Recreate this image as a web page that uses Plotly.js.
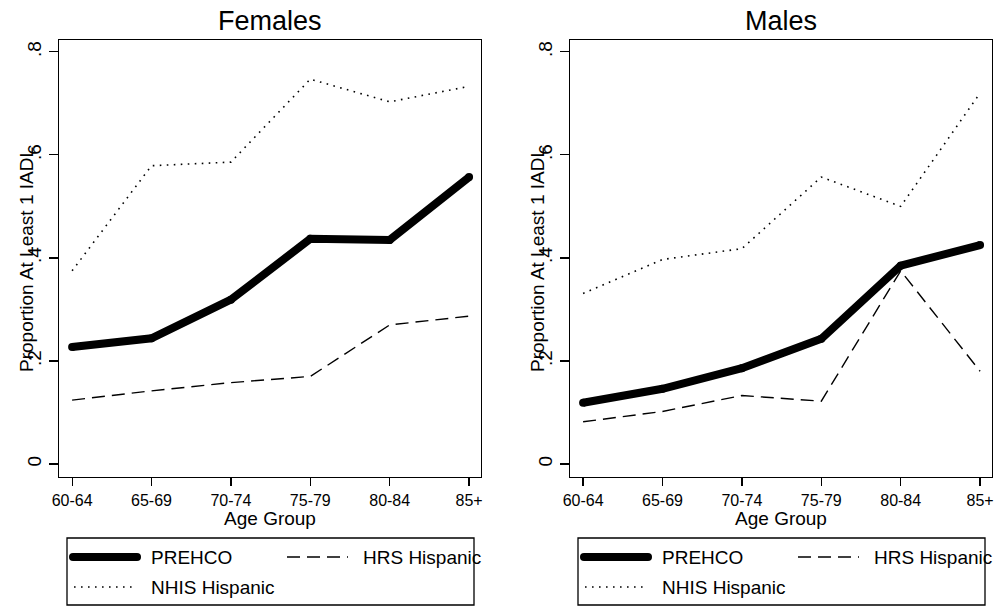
<!DOCTYPE html>
<html>
<head>
<meta charset="utf-8">
<script src="https://cdn.plot.ly/plotly-3.0.1.min.js"></script>
<style>
  html, body { margin: 0; padding: 0; background: #fff; }
  #chart { width: 998px; height: 606px; }
</style>
</head>
<body>
<div id="chart"></div>
<script>
// Age groups on the x axis
const ageGroups = ['60-64', '65-69', '70-74', '75-79', '80-84', '85+'];

// Proportion with at least one IADL limitation, females
const femalesPrehco = [0.227, 0.244, 0.319, 0.437, 0.435, 0.557];
const femalesHrs    = [0.124, 0.142, 0.158, 0.170, 0.270, 0.287];
const femalesNhis   = [0.375, 0.579, 0.586, 0.747, 0.703, 0.733];

// Proportion with at least one IADL limitation, males
const malesPrehco = [0.119, 0.146, 0.186, 0.243, 0.385, 0.425];
const malesHrs    = [0.082, 0.102, 0.133, 0.122, 0.375, 0.180];
const malesNhis   = [0.331, 0.397, 0.418, 0.557, 0.500, 0.720];

// Y tick values and labels
const yTickVals = [0, 0.2, 0.4, 0.6, 0.8];
const yTickText = ['0', '.2', '.4', '.6', '.8'];

const seriesNames = ['PREHCO', 'HRS Hispanic', 'NHIS Hispanic'];

const W = 998, H = 606;
const FONT = 'Liberation Sans, Arial, Helvetica, sans-serif';
const px = v => v / W;          // pixel x -> paper x
const py = v => 1 - v / H;      // pixel y -> paper y

const styles = {
  'PREHCO':        { line: { color: '#000', width: 8 }, mode: 'lines+markers', marker: { size: 8, color: '#000' } },
  'HRS Hispanic':  { line: { color: '#000', width: 1.4, dash: '13px,7px' }, mode: 'lines' },
  'NHIS Hispanic': { line: { color: '#000', width: 1.6, dash: '1.6px,5.4px' }, mode: 'lines' }
};

function trace(name, y, xa, ya) {
  return Object.assign({
    type: 'scatter', x: ageGroups, y: y, name: name,
    xaxis: xa, yaxis: ya, showlegend: false, hoverinfo: 'skip'
  }, styles[name]);
}

const data = [
  trace('NHIS Hispanic', femalesNhis, 'x', 'y'),
  trace('HRS Hispanic', femalesHrs, 'x', 'y'),
  trace('PREHCO', femalesPrehco, 'x', 'y'),
  trace('NHIS Hispanic', malesNhis, 'x2', 'y2'),
  trace('HRS Hispanic', malesHrs, 'x2', 'y2'),
  trace('PREHCO', malesPrehco, 'x2', 'y2')
];

const yDomain = [1 - 477 / H, 1 - 40 / H];

function xAxis(domain, anchor) {
  return {
    domain: domain, anchor: anchor,
    type: 'category', categoryarray: ageGroups,
    range: [-0.165, 5.15],
    showgrid: false, zeroline: false,
    showline: true, mirror: true, linecolor: '#000', linewidth: 1.3,
    ticks: 'outside', ticklen: 8, tickwidth: 1.2, tickcolor: '#000',
    tickfont: { family: FONT, size: 16, color: '#000' },
    title: { text: 'Age Group', font: { family: FONT, size: 19, color: '#000' }, standoff: 1 }
  };
}

function yAxis(anchor) {
  return {
    domain: yDomain, anchor: anchor,
    range: [-0.0252, 0.823],
    tickvals: yTickVals, ticktext: yTickText, tickangle: -90,
    showgrid: false, zeroline: false,
    showline: true, mirror: true, linecolor: '#000', linewidth: 1.3,
    ticks: 'outside', ticklen: 9, tickwidth: 1.2, tickcolor: '#000',
    tickfont: { family: FONT, size: 19, color: '#000' }
  };
}

// Legend boxes drawn below each panel
const shapes = [];
const annotations = [];

function legendBlock(dx) {
  const box = { x0: 67 + dx, x1: 474 + dx, y0: 538, y1: 605 };
  shapes.push({
    type: 'rect', xref: 'paper', yref: 'paper',
    x0: px(box.x0), x1: px(box.x1), y0: py(box.y1), y1: py(box.y0),
    line: { color: '#000', width: 1.3 }, fillcolor: 'rgba(0,0,0,0)'
  });
  const entries = [
    { name: 'PREHCO',        x0: 73 + dx,  x1: 137 + dx, tx: 149 + dx, y: 557 },
    { name: 'HRS Hispanic',  x0: 287 + dx, x1: 348 + dx, tx: 361 + dx, y: 557 },
    { name: 'NHIS Hispanic', x0: 74 + dx,  x1: 132 + dx, tx: 149 + dx, y: 587 }
  ];
  entries.forEach(e => {
    const st = styles[e.name].line;
    shapes.push({
      type: 'line', xref: 'paper', yref: 'paper',
      x0: px(e.x0), x1: px(e.x1), y0: py(e.y), y1: py(e.y),
      line: { color: '#000', width: st.width, dash: st.dash || 'solid' }
    });
    if (e.name === 'PREHCO') {
      [e.x0, e.x1].forEach(cx => shapes.push({
        type: 'circle', xref: 'paper', yref: 'paper',
        x0: px(cx - 4), x1: px(cx + 4), y0: py(e.y + 4), y1: py(e.y - 4),
        fillcolor: '#000', line: { width: 0 }
      }));
    }
    annotations.push({
      xref: 'paper', yref: 'paper', x: px(e.tx), y: py(e.y),
      xanchor: 'left', yanchor: 'middle', showarrow: false,
      text: e.name, font: { family: FONT, size: 19, color: '#000' }
    });
  });
}
legendBlock(0);
legendBlock(511);

// Panel titles
[['Females', 270], ['Males', 781]].forEach(([t, cx]) => {
  annotations.push({
    xref: 'paper', yref: 'paper', x: px(cx), y: py(21),
    xanchor: 'center', yanchor: 'middle', showarrow: false,
    text: t, font: { family: FONT, size: 27, color: '#000' }
  });
});

// Y axis titles, set close to the axis so they run over the tick labels
[26, 537].forEach(cx => {
  annotations.push({
    xref: 'paper', yref: 'paper', x: px(cx), y: py(260),
    xanchor: 'center', yanchor: 'middle', showarrow: false, textangle: -90,
    text: 'Proportion At Least 1 IADL', font: { family: FONT, size: 19, color: '#000' }
  });
});

const layout = {
  width: W, height: H,
  margin: { l: 0, r: 0, t: 0, b: 0 },
  paper_bgcolor: '#fff', plot_bgcolor: '#fff',
  showlegend: false,
  xaxis: xAxis([59 / W, 481 / W], 'y'),
  yaxis: yAxis('x'),
  xaxis2: xAxis([570 / W, 992 / W], 'y2'),
  yaxis2: yAxis('x2'),
  shapes: shapes,
  annotations: annotations
};

Plotly.newPlot('chart', data, layout, { staticPlot: true, displayModeBar: false });
</script>
</body>
</html>
